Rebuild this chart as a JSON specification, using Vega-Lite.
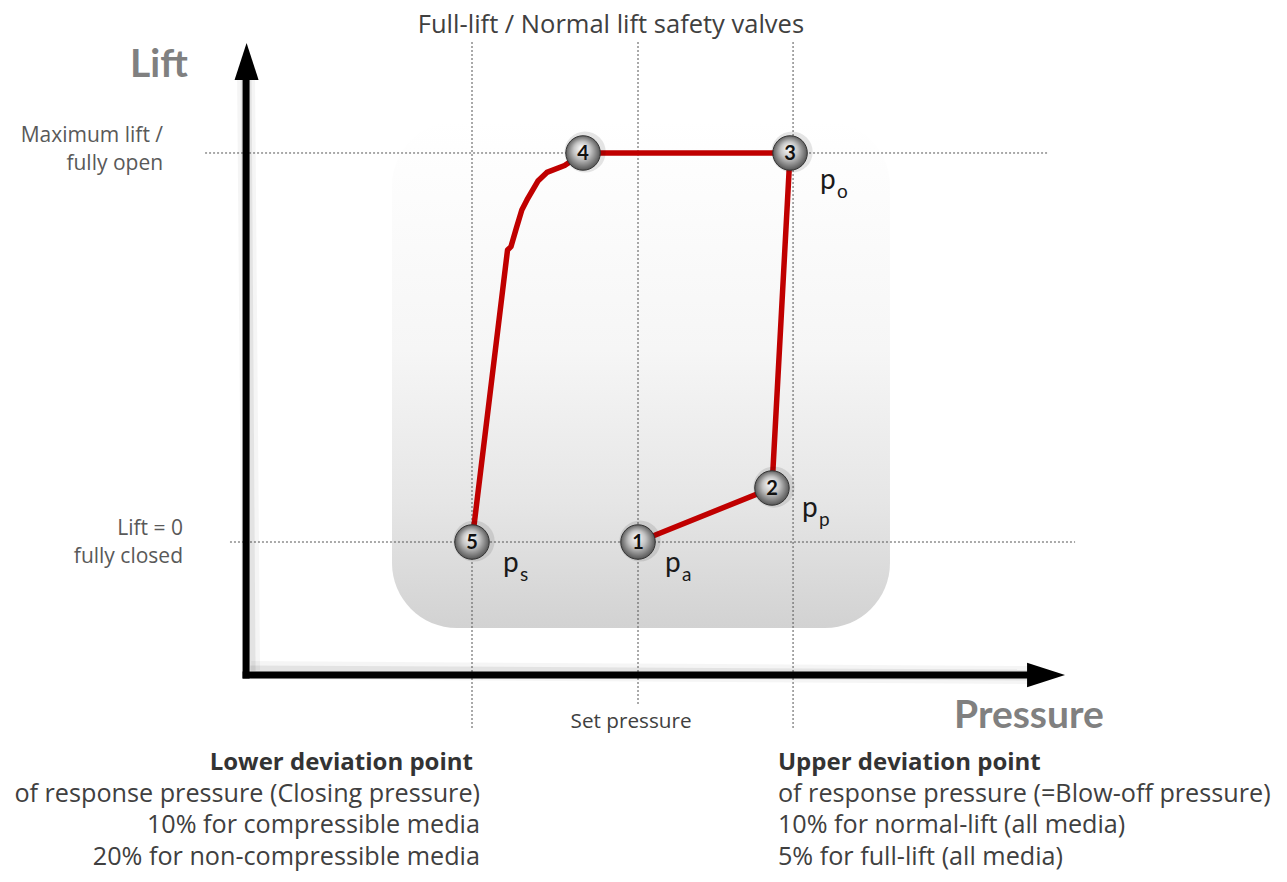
{
  "$schema": "https://vega.github.io/schema/vega-lite/v6.json",
  "width": 1287,
  "height": 882,
  "autosize": {"type": "fit", "contains": "padding"},
  "padding": 0,
  "background": "white",
  "config": {"view": {"stroke": null}, "font": "Open Sans"},
  "datasets": {
    "box": [{"x": 85.18, "x2": 115.18, "y": 108.23, "y2": -22.11}],
    "grid": [
      {"x": 90.0, "x2": 90.0, "y": 128.53, "y2": -48.33},
      {"x": 100.0, "x2": 100.0, "y": 128.53, "y2": -41.9},
      {"x": 109.34, "x2": 109.34, "y": 128.53, "y2": -48.33},
      {"x": 73.92, "x2": 124.7, "y": 100, "y2": 100},
      {"x": 75.42, "x2": 126.33, "y": 0, "y2": 0}
    ],
    "axes": [
      {"x": 76.39, "x2": 76.39, "y": -34.19, "y2": 118.77},
      {"x": 76.39, "x2": 123.61, "y": -34.19, "y2": -34.19}
    ],
    "heads": [
      {"dir": "up", "x": 76.42, "y": 123.52},
      {"dir": "right", "x": 124.58, "y": -34.19}
    ],
    "curve": [
      {"order": 1, "x": 100.0, "y": 0},
      {"order": 2, "x": 108.07, "y": 13.88},
      {"order": 3, "x": 109.16, "y": 100},
      {"order": 4, "x": 96.69, "y": 100},
      {"order": 5, "x": 95.58, "y": 96.79},
      {"order": 6, "x": 94.51, "y": 95.01},
      {"order": 7, "x": 93.97, "y": 92.8},
      {"order": 8, "x": 93.31, "y": 87.92},
      {"order": 9, "x": 93.0, "y": 85.35},
      {"order": 10, "x": 92.68, "y": 80.82},
      {"order": 11, "x": 92.35, "y": 75.94},
      {"order": 12, "x": 92.14, "y": 75.06},
      {"order": 13, "x": 90.0, "y": 0}
    ],
    "spheres": [
      {"n": "1", "x": 100.0, "y": 0},
      {"n": "2", "x": 108.07, "y": 13.88},
      {"n": "3", "x": 109.16, "y": 100},
      {"n": "4", "x": 96.69, "y": 100},
      {"n": "5", "x": 90.0, "y": 0}
    ],
    "plabels": [
      {"main": "p", "sub": "s", "x": 91.87, "y": -7.71},
      {"main": "p", "sub": "a", "x": 101.63, "y": -7.71},
      {"main": "p", "sub": "p", "x": 109.88, "y": 6.43},
      {"main": "p", "sub": "o", "x": 110.96, "y": 90.75}
    ],
    "texts": [
      {"style": "axisTitle", "text": "Lift", "x": 71.14, "y": 119.54},
      {"style": "axisTitle", "text": "Pressure", "x": 123.55, "y": -47.81},
      {"style": "side", "text": "Maximum lift /", "x": 71.39, "y": 102.83},
      {"style": "side", "text": "fully open", "x": 71.39, "y": 95.63},
      {"style": "side", "text": "Lift = 0", "x": 72.59, "y": 1.8},
      {"style": "side", "text": "fully closed", "x": 72.59, "y": -5.4},
      {"style": "title", "text": "Full-lift / Normal lift safety valves", "x": 98.37, "y": 130.85},
      {"style": "setp", "text": "Set pressure", "x": 99.58, "y": -47.81},
      {"style": "lowerBold", "text": "Lower deviation point", "x": 90.06, "y": -58.61},
      {"style": "lower", "text": "of response pressure (Closing pressure)", "x": 90.48, "y": -66.84},
      {"style": "lower", "text": "10% for compressible media", "x": 90.48, "y": -74.81},
      {"style": "lower", "text": "20% for non-compressible media", "x": 90.48, "y": -83.03},
      {"style": "upperBold", "text": "Upper deviation point", "x": 108.43, "y": -58.61},
      {"style": "upper", "text": "of response pressure (=Blow-off pressure)", "x": 108.43, "y": -66.84},
      {"style": "upper", "text": "10% for normal-lift (all media)", "x": 108.43, "y": -74.81},
      {"style": "upper", "text": "5% for full-lift (all media)", "x": 108.43, "y": -83.03}
    ]
  },
  "encoding": {
    "x": {"field": "x", "type": "quantitative", "scale": {"domain": [61.566, 139.096], "nice": false, "zero": false}, "axis": null},
    "y": {"field": "y", "type": "quantitative", "scale": {"domain": [-87.4, 139.33], "nice": false, "zero": false}, "axis": null}
  },
  "layer": [
    {
      "data": {"name": "box"},
      "mark": {"type": "rect", "cornerRadius": 65, "fill": {"gradient": "linear", "x1": 0, "y1": 0, "x2": 0, "y2": 1, "stops": [{"offset": 0, "color": "#ffffff"}, {"offset": 0.45, "color": "#f6f6f6"}, {"offset": 0.75, "color": "#e6e6e6"}, {"offset": 1, "color": "#d2d2d2"}]}},
      "encoding": {"x2": {"field": "x2"}, "y2": {"field": "y2"}}
    },
    {
      "data": {"name": "grid"},
      "mark": {"type": "rule", "color": "#555555", "strokeWidth": 1, "strokeDash": [2, 2]},
      "encoding": {"x2": {"field": "x2"}, "y2": {"field": "y2"}}
    },
    {
      "data": {"name": "axes"},
      "mark": {"type": "rule", "color": "#000000", "opacity": 0.04, "strokeWidth": 18, "xOffset": 5, "yOffset": -5},
      "encoding": {"x2": {"field": "x2"}, "y2": {"field": "y2"}}
    },
    {
      "data": {"name": "axes"},
      "mark": {"type": "rule", "color": "#000000", "opacity": 0.07, "strokeWidth": 11, "xOffset": 4, "yOffset": -4},
      "encoding": {"x2": {"field": "x2"}, "y2": {"field": "y2"}}
    },
    {
      "data": {"name": "axes"},
      "mark": {"type": "rule", "color": "#000000", "strokeWidth": 7, "strokeCap": "square"},
      "encoding": {"x2": {"field": "x2"}, "y2": {"field": "y2"}}
    },
    {
      "data": {"name": "heads"},
      "transform": [{"filter": "datum.dir === 'up'"}],
      "mark": {"type": "point", "filled": true, "color": "#000000", "opacity": 1, "size": 1369, "shape": "M0,-1L0.65,1L-0.65,1Z"}
    },
    {
      "data": {"name": "heads"},
      "transform": [{"filter": "datum.dir === 'right'"}],
      "mark": {"type": "point", "filled": true, "color": "#000000", "opacity": 1, "size": 1444, "shape": "M1,0L-1,-0.65L-1,0.65Z"}
    },
    {
      "data": {"name": "curve"},
      "mark": {"type": "line", "color": "#c00000", "strokeWidth": 5.5, "strokeJoin": "round", "strokeCap": "round"},
      "encoding": {"order": {"field": "order", "type": "quantitative"}}
    },
    {
      "data": {"name": "spheres"},
      "mark": {"type": "point", "filled": true, "shape": "circle", "size": 1700, "color": "#000000", "opacity": 0.1, "xOffset": 2, "yOffset": -1}
    },
    {
      "data": {"name": "spheres"},
      "mark": {"type": "point", "filled": true, "shape": "circle", "size": 1190, "opacity": 1, "fill": {"gradient": "radial", "x1": 0.45, "y1": 0.35, "r1": 0, "x2": 0.5, "y2": 0.5, "r2": 0.55, "stops": [{"offset": 0, "color": "#ffffff"}, {"offset": 0.45, "color": "#c4c4c4"}, {"offset": 1, "color": "#454545"}]}, "stroke": "#333333", "strokeWidth": 1}
    },
    {
      "data": {"name": "spheres"},
      "mark": {"type": "text", "font": "Lato", "fontWeight": "bold", "fontSize": 20, "color": "#111111", "align": "center", "baseline": "middle", "dy": 1},
      "encoding": {"text": {"field": "n"}}
    },
    {
      "data": {"name": "plabels"},
      "mark": {"type": "text", "font": "Lato", "fontSize": 28, "color": "#1a1a1a", "align": "left", "baseline": "alphabetic"},
      "encoding": {"text": {"field": "main"}}
    },
    {
      "data": {"name": "plabels"},
      "mark": {"type": "text", "font": "Lato", "fontSize": 19, "color": "#1a1a1a", "align": "left", "baseline": "alphabetic", "dx": 17, "dy": 9},
      "encoding": {"text": {"field": "sub"}}
    },
    {
      "data": {"name": "texts"},
      "transform": [{"filter": "datum.style === 'axisTitle'"}],
      "mark": {"type": "text", "font": "Lato", "fontSize": 39, "fontWeight": "bold", "color": "#808080", "align": "center", "baseline": "alphabetic"},
      "encoding": {"text": {"field": "text"}}
    },
    {
      "data": {"name": "texts"},
      "transform": [{"filter": "datum.style === 'side'"}],
      "mark": {"type": "text", "fontSize": 21, "color": "#595959", "align": "right", "baseline": "alphabetic"},
      "encoding": {"text": {"field": "text"}}
    },
    {
      "data": {"name": "texts"},
      "transform": [{"filter": "datum.style === 'title'"}],
      "mark": {"type": "text", "fontSize": 25.5, "color": "#404040", "align": "center", "baseline": "alphabetic"},
      "encoding": {"text": {"field": "text"}}
    },
    {
      "data": {"name": "texts"},
      "transform": [{"filter": "datum.style === 'setp'"}],
      "mark": {"type": "text", "fontSize": 20.7, "color": "#404040", "align": "center", "baseline": "alphabetic"},
      "encoding": {"text": {"field": "text"}}
    },
    {
      "data": {"name": "texts"},
      "transform": [{"filter": "datum.style === 'lowerBold'"}],
      "mark": {"type": "text", "fontSize": 24, "fontWeight": "bold", "color": "#333333", "align": "right", "baseline": "alphabetic"},
      "encoding": {"text": {"field": "text"}}
    },
    {
      "data": {"name": "texts"},
      "transform": [{"filter": "datum.style === 'lower'"}],
      "mark": {"type": "text", "fontSize": 25.2, "color": "#404040", "align": "right", "baseline": "alphabetic"},
      "encoding": {"text": {"field": "text"}}
    },
    {
      "data": {"name": "texts"},
      "transform": [{"filter": "datum.style === 'upperBold'"}],
      "mark": {"type": "text", "fontSize": 24, "fontWeight": "bold", "color": "#333333", "align": "left", "baseline": "alphabetic"},
      "encoding": {"text": {"field": "text"}}
    },
    {
      "data": {"name": "texts"},
      "transform": [{"filter": "datum.style === 'upper'"}],
      "mark": {"type": "text", "fontSize": 25.2, "color": "#404040", "align": "left", "baseline": "alphabetic"},
      "encoding": {"text": {"field": "text"}}
    }
  ]
}
